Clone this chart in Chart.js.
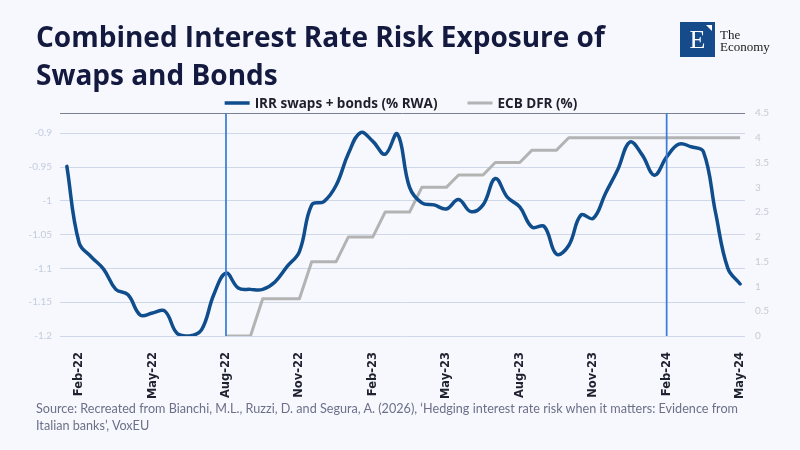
<!DOCTYPE html>
<html>
<head>
<meta charset="utf-8">
<title>Combined Interest Rate Risk Exposure of Swaps and Bonds</title>
<script src="https://cdn.jsdelivr.net/npm/chart.js@4.4.1/dist/chart.umd.min.js"></script>
<style>
  html, body { margin: 0; padding: 0; background: #f7f8fd; }
  #page { position: relative; width: 800px; height: 450px; overflow: hidden; }
  #chartBox { position: absolute; left: 0; top: 0; width: 800px; height: 450px; }
  h1 {
    position: absolute; left: 36px; top: 17px; margin: 0;
    font: 700 28px/38px "Open Sans", "Noto Sans", sans-serif; color: #141a3f;
    white-space: nowrap;
  }
  .logo { position: absolute; left: 680px; top: 22px; width: 35px; height: 35px; background: #154b8b; }
  .logo span {
    position: absolute; left: 0; top: 5px; width: 35px; text-align: center;
    font: 26px/26px "Liberation Serif", "DejaVu Serif", serif; color: #fff;
  }
  .logo i {
    position: absolute; right: 3px; top: 3px; width: 0; height: 0;
    border-top: 6px solid #fff; border-left: 6px solid transparent;
  }
  .brand {
    position: absolute; left: 720px; top: 29px;
    font: 13px/12px "Liberation Serif", "DejaVu Serif", serif; color: #1a1a1a;
  }
  .source {
    position: absolute; left: 36px; top: 399px;
    font: 14px/17px Lato, sans-serif; color: #6b7088;
  }
  .source div { white-space: nowrap; transform-origin: 0 50%; }
</style>
</head>
<body>
<div id="page">
  <div id="chartBox"><canvas id="myChart"></canvas></div>
  <h1>Combined Interest Rate Risk Exposure of<br>Swaps and Bonds</h1>
  <div class="logo"><span>E</span><i></i></div>
  <div class="brand">The<br>Economy</div>
  <div class="source">
    <div id="src1">Source: Recreated from Bianchi, M.L., Ruzzi, D. and Segura, A. (2026), ‘Hedging interest rate risk when it matters: Evidence from</div>
    <div id="src2">Italian banks’, VoxEU</div>
  </div>
</div>
<script>
// data: half-month observations, position in months from Jan-22
const monthPos = [
  0.5, 1, 1.5, 2, 2.5, 3, 3.5, 4, 4.5, 5, 5.5, 6, 6.5, 7,
  7.5, 8, 8.5, 9, 9.5, 10, 10.5, 11, 11.5, 12, 12.5, 13, 13.5, 14,
  14.5, 15, 15.5, 16, 16.5, 17, 17.5, 18, 18.5, 19, 19.5, 20, 20.5, 21,
  21.5, 22, 22.5, 23, 23.5, 24, 24.5, 25, 25.5, 26, 26.5, 27, 27.5, 28
];
const irrSwapsBonds = [
  -0.949, -1.062, -1.083, -1.101, -1.131, -1.139, -1.169, -1.166, -1.163, -1.196, -1.200, -1.191, -1.139, -1.107,
  -1.129, -1.131, -1.131, -1.120, -1.097, -1.075, -1.006, -1.001, -0.977, -0.930, -0.899, -0.912, -0.931, -0.901,
  -0.980, -1.003, -1.006, -1.012, -0.998, -1.016, -1.006, -0.967, -0.995, -1.009, -1.039, -1.038, -1.079, -1.066,
  -1.021, -1.026, -0.989, -0.954, -0.913, -0.932, -0.962, -0.935, -0.916, -0.920, -0.927, -1.018, -1.100, -1.123
];
const ecbDfr = [
  null, null, null, null, null, null, null, null, null, null, null, null, null, 0,
  0, 0, 0.75, 0.75, 0.75, 0.75, 1.5, 1.5, 1.5, 2, 2, 2, 2.5, 2.5,
  2.5, 3, 3, 3, 3.25, 3.25, 3.25, 3.5, 3.5, 3.5, 3.75, 3.75, 3.75, 4,
  4, 4, 4, 4, 4, 4, 4, 4, 4, 4, 4, 4, 4, 4
];
const tickMonths = [1, 4, 7, 10, 13, 16, 19, 22, 25, 28];
const tickLabels = ['Feb-22', 'May-22', 'Aug-22', 'Nov-22', 'Feb-23', 'May-23', 'Aug-23', 'Nov-23', 'Feb-24', 'May-24'];
const leftTicks = [-1.2, -1.15, -1.1, -1.05, -1, -0.95, -0.9];
const markerMonths = [7, 25];

const toPoints = (ys) => monthPos.map((m, i) => ({ x: m, y: ys[i] }));

// squeeze the source note to the width it has in the original
const src1 = document.getElementById('src1');
const src2 = document.getElementById('src2');
const squeeze = 702 / src1.getBoundingClientRect().width;
src1.style.transform = src2.style.transform = `scaleX(${squeeze})`;

// vertical markers + dark top rule
const guideLines = {
  id: 'guideLines',
  afterDatasetsDraw(chart) {
    const { ctx, chartArea: a, scales: { x } } = chart;
    ctx.save();
    ctx.strokeStyle = '#7a8194';
    ctx.lineWidth = 1;
    ctx.beginPath();
    ctx.moveTo(a.left, a.top + 0.5);
    ctx.lineTo(a.right, a.top + 0.5);
    ctx.stroke();
    ctx.strokeStyle = '#3b7dd8';
    ctx.lineWidth = 1.75;
    markerMonths.forEach(m => {
      const px = x.getPixelForValue(m);
      ctx.beginPath();
      ctx.moveTo(px, a.top);
      ctx.lineTo(px, a.bottom);
      ctx.stroke();
    });
    ctx.restore();
  }
};

// legend row above the plot
const lineLegend = {
  id: 'lineLegend',
  afterDraw(chart) {
    const { ctx } = chart;
    const sets = chart.data.datasets;
    const sw = 25, gapText = 5, gapItem = 30, y = 103;
    ctx.save();
    ctx.font = '700 13.5px "Open Sans"';
    ctx.textBaseline = 'middle';
    const widths = sets.map(d => sw + gapText + ctx.measureText(d.label).width);
    const total = widths.reduce((s, w) => s + w, 0) + gapItem * (sets.length - 1);
    let x = 401 - total / 2;
    sets.forEach((d, i) => {
      ctx.strokeStyle = d.borderColor;
      ctx.lineWidth = d.borderWidth;
      ctx.beginPath();
      ctx.moveTo(x, y);
      ctx.lineTo(x + sw, y);
      ctx.stroke();
      ctx.fillStyle = '#1d1f2b';
      ctx.fillText(d.label, x + sw + gapText, y + 1);
      x += widths[i] + gapItem;
    });
    ctx.restore();
  }
};

const config = {
  type: 'line',
  data: {
    datasets: [{
      label: 'IRR swaps + bonds (% RWA)',
      data: toPoints(irrSwapsBonds),
      borderColor: '#0f4d8c',
      borderWidth: 3.5,
      tension: 0.4,
      pointRadius: 0,
      borderCapStyle: 'round',
      yAxisID: 'y'
    }, {
      label: 'ECB DFR (%)',
      data: toPoints(ecbDfr),
      borderColor: '#b3b3b3',
      borderWidth: 3,
      tension: 0,
      pointRadius: 0,
      borderJoinStyle: 'round',
      yAxisID: 'y1'
    }]
  },
  options: {
    responsive: true,
    maintainAspectRatio: false,
    animation: false,
    layout: { padding: { top: 113, bottom: 44, left: 0, right: 0 } },
    plugins: { legend: { display: false }, tooltip: { enabled: false } },
    scales: {
      x: {
        type: 'linear',
        min: 0.22,
        max: 28.2,
        afterBuildTicks: (s) => { s.ticks = tickMonths.map(v => ({ value: v })); },
        afterFit: (s) => { s.height = 70; },
        grid: { display: false },
        border: { display: false },
        ticks: {
          autoSkip: false,
          minRotation: 90,
          maxRotation: 90,
          padding: 8,
          color: '#1f2230',
          font: { family: '"DejaVu Sans", Verdana, sans-serif', weight: 'bold', size: 11.5 },
          callback: (v, i) => tickLabels[i]
        }
      },
      y: {
        position: 'left',
        min: -1.2,
        max: -0.87,
        afterBuildTicks: (s) => { s.ticks = leftTicks.map(v => ({ value: v })); },
        afterFit: (s) => { s.width = 60; },
        grid: { color: '#cfd8e8', lineWidth: 1, drawTicks: false },
        border: { display: false },
        ticks: {
          padding: 8,
          color: '#c3ccdc',
          font: { family: 'Lato', size: 10 },
          callback: (v) => String(Number(v.toFixed(2)))
        }
      },
      y1: {
        position: 'right',
        min: 0,
        max: 4.5,
        afterFit: (s) => { s.width = 55; },
        grid: { drawOnChartArea: false, drawTicks: false },
        border: { display: false },
        ticks: {
          stepSize: 0.5,
          padding: 10,
          color: '#c6cad3',
          font: { family: 'Lato', size: 10 },
          callback: (v) => String(v)
        }
      }
    }
  },
  plugins: [guideLines, lineLegend]
};

const myChart = new Chart(document.getElementById('myChart'), config);
</script>
</body>
</html>
